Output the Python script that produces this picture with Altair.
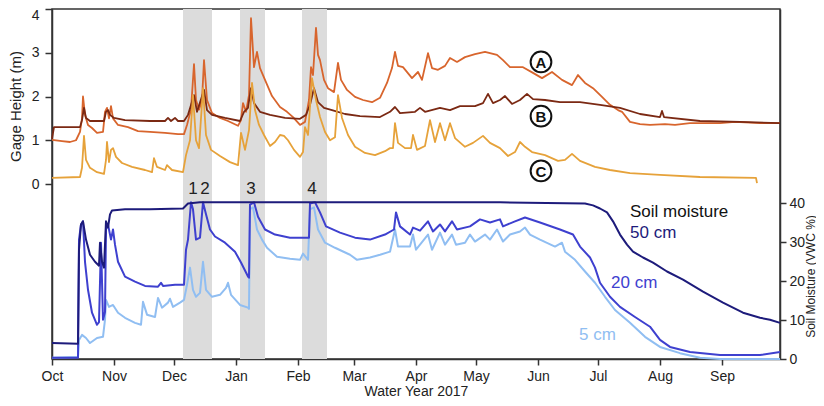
import altair as alt
import pandas as pd

FONT = "Liberation Sans"

MONTHS = ["Oct", "Nov", "Dec", "Jan", "Feb", "Mar", "Apr", "May", "Jun", "Jul", "Aug", "Sep"]
MONTH_START_DAYS = [0, 31, 61, 92, 123, 151, 182, 212, 243, 273, 304, 335]

# Gage height (m), x = day of water year 2017 (0 = Oct 1)
A_DAY = [0, 5, 9, 12, 14, 15, 15.5, 16.5, 18, 20, 22.5, 25.5, 26.5, 27.5, 28.5, 29.5, 30.5, 33, 38, 43, 49, 56.5, 63, 66,
         67.5, 69.5, 71, 72, 73.5, 75, 76, 77.5, 80, 84, 88, 93, 94.5, 95.5, 97, 98.5, 99.5, 101, 102.5, 104, 106.5, 110,
         114, 117.5, 120.5, 124, 126.5, 128.5, 129.5, 130.5, 132, 133, 134, 136, 138, 141, 143, 144.5, 147.5, 151.5,
         155.5, 160, 164, 167.5, 170, 171.5, 173, 175.5, 180, 183, 185, 188, 190, 193, 196.5, 199, 202.5, 206.5, 211.5,
         216.5, 222.5, 225.5, 229, 235.5, 240.5, 245, 250, 255, 260, 263, 266.5, 270.5, 275, 279, 283, 285, 289, 294,
         299, 306.5, 311.5, 319, 334, 341.5, 354, 364]
A_M = [1.01, 0.98, 0.96, 1.0, 1.19, 1.5, 2.0, 1.58, 1.35, 1.28, 1.17, 1.19, 1.65, 1.74, 1.5, 1.78, 1.5, 1.35, 1.3, 1.21,
       1.19, 1.17, 1.14, 1.14, 1.35, 1.7, 2.74, 1.92, 1.7, 1.92, 2.83, 1.92, 1.62, 1.51, 1.44, 1.33, 1.46, 1.85, 1.65,
       2.03, 3.79, 2.67, 3.02, 2.65, 2.38, 2.01, 1.76, 1.65, 1.53, 1.35, 1.42, 1.92, 2.67, 2.49, 3.57, 2.95, 2.83, 2.38,
       2.19, 2.1, 2.77, 2.38, 2.15, 1.99, 1.92, 1.87, 1.97, 2.31, 2.65, 3.02, 2.7, 2.67, 2.42, 2.56, 2.38, 2.99, 2.65,
       2.61, 2.7, 2.88, 2.79, 2.9, 2.97, 3.02, 2.95, 2.83, 2.67, 2.67, 2.54, 2.42, 2.56, 2.38, 2.26, 2.49, 2.31, 2.19,
       1.99, 1.81, 1.69, 1.65, 1.42, 1.37, 1.35, 1.37, 1.35, 1.39, 1.39, 1.42, 1.39, 1.39]

B_DAY = [0, 1, 14, 15, 16, 17, 19, 26, 27, 28, 29, 31, 36.5, 49, 56.5, 58, 59.5, 61.5, 63, 66, 68, 71, 72.5, 76, 77.5,
         80, 86.5, 94, 96, 98, 99.5, 101, 104, 109, 116.5, 124, 127, 129, 131, 133, 136, 140, 146.5, 154, 164, 169,
         171.5, 174, 181.5, 184, 186.5, 194, 199, 204, 211.5, 215.5, 218, 220.5, 224, 226.5, 230, 234, 237.5, 240.5,
         246.5, 254, 264, 274, 284, 294, 304, 305, 306, 324, 344, 364]
B_M = [1.03, 1.3, 1.3, 1.46, 1.74, 1.51, 1.44, 1.44, 1.65, 1.69, 1.58, 1.51, 1.46, 1.44, 1.44, 1.51, 1.44, 1.51, 1.44,
       1.44, 1.58, 2.03, 1.65, 2.15, 1.69, 1.58, 1.51, 1.44, 1.65, 1.74, 2.19, 1.85, 1.65, 1.58, 1.51, 1.49, 1.58, 1.81,
       2.19, 1.87, 1.74, 1.69, 1.6, 1.55, 1.53, 1.65, 1.76, 1.62, 1.65, 1.74, 1.65, 1.74, 1.69, 1.78, 1.78, 1.85, 2.06,
       1.85, 1.92, 2.01, 1.83, 1.92, 2.06, 1.94, 1.92, 1.87, 1.87, 1.81, 1.74, 1.6, 1.53, 1.67, 1.53, 1.44, 1.42, 1.39]

C_DAY = [0, 14, 15, 16, 17, 19, 22.5, 26, 27, 27.5, 28.5, 29.5, 30.5, 32, 35, 40, 46.5, 50, 51, 52.5, 56.5, 57.5, 60,
         65.5, 67, 69, 70.5, 72, 73.5, 75.5, 77, 79.5, 84, 89, 93, 94.5, 96.5, 98.5, 100, 101.5, 103.5, 106, 109, 111.5,
         114, 116, 118, 121, 124, 125.5, 126.5, 128, 130, 132, 134, 136.5, 139, 141.5, 143, 145, 148, 151.5, 156.5,
         161.5, 166.5, 169, 170.5, 171.5, 173, 176.5, 179.5, 180.5, 182.5, 186.5, 189, 191.5, 194, 196.5, 199, 201.5,
         206.5, 210.5, 215.5, 219, 224, 228, 231.5, 234, 236.5, 240, 246.5, 253, 256.5, 260, 264, 271.5, 279, 289, 304,
         324, 352, 352.5]
C_M = [0.14, 0.16, 0.37, 1.1, 0.55, 0.37, 0.27, 0.23, 0.55, 0.96, 0.5, 0.78, 0.82, 0.62, 0.48, 0.39, 0.32, 0.27, 0.59,
       0.39, 0.32, 0.43, 0.32, 0.27, 0.66, 1.0, 2.03, 1.0, 0.82, 2.19, 1.12, 0.78, 0.64, 0.5, 0.43, 1.17, 0.78, 1.23,
       2.31, 1.69, 1.35, 1.12, 0.87, 0.96, 1.12, 1.1, 1.0, 0.78, 0.62, 0.73, 1.3, 1.12, 2.42, 1.92, 1.53, 1.19, 1.0,
       1.07, 2.03, 1.51, 1.12, 0.85, 0.71, 0.66, 0.75, 0.82, 0.82, 1.39, 0.94, 0.82, 0.82, 1.12, 0.78, 0.87, 1.46, 0.96,
       1.39, 1.0, 1.39, 1.05, 0.85, 0.94, 1.1, 0.94, 0.82, 0.64, 0.73, 0.96, 0.85, 0.73, 0.66, 0.53, 0.55, 0.69, 0.53,
       0.39, 0.32, 0.25, 0.21, 0.16, 0.14, 0.02]

# Soil moisture (VWC %)
S50_DAY = [0, 13, 13.5, 14.5, 15.5, 17, 19, 21.5, 23.5, 24, 25, 26, 27, 28, 29, 30, 36.5, 49, 65.5, 68, 74, 124, 174,
           224, 266.5, 270.5, 274, 277.5, 280.5, 284, 287.5, 290.5, 295.5, 300.5, 307.5, 315.5, 325.5, 335.5, 345.5,
           354, 359, 364]
S50_V = [4.1, 3.9, 28.1, 34.6, 35.4, 30.7, 26.8, 25.0, 24.0, 29.9, 25.0, 23.5, 35.4, 33.8, 37.2, 38.2, 38.5, 38.5, 38.7,
         40.0, 40.3, 40.3, 40.3, 40.3, 40.0, 39.5, 38.7, 37.7, 35.4, 32.0, 29.4, 27.6, 26.1, 24.8, 22.5, 20.4, 17.3, 14.5,
         11.9, 10.6, 10.1, 9.3]

S20_DAY = [0, 13, 13.5, 14.5, 15.5, 16.5, 18, 20, 22.5, 23.5, 24.5, 25.5, 26.5, 27, 28, 29.5, 30.5, 31.5, 33, 36.5,
           41.5, 46.5, 53, 54.5, 55.5, 61.5, 66, 67, 68, 69.5, 70.5, 72, 74, 75.5, 77, 79, 81.5, 86.5, 91.5, 94.5, 98,
           98.5, 99, 101, 103, 106.5, 111.5, 119, 126.5, 128.5, 129, 131.5, 134, 137, 144, 151.5, 159, 166.5, 171, 172,
           174, 179, 180.5, 184, 188, 190.5, 194, 196.5, 200, 202.5, 209, 214, 219, 224, 225.5, 231.5, 236.5, 244, 254,
           260.5, 264, 269, 271.5, 274, 279, 284, 291.5, 299, 304, 309, 319, 334, 354, 364]
S20_V = [0.3, 0.3, 30.7, 34.6, 35.4, 25.0, 17.8, 11.9, 8.8, 9.5, 29.9, 10.1, 12.1, 33.3, 34.6, 30.7, 33.3, 29.4, 25.0,
         21.2, 19.9, 18.8, 18.6, 19.6, 18.8, 19.1, 19.1, 28.1, 30.7, 40.3, 38.5, 30.7, 31.2, 40.3, 37.2, 33.3, 31.5, 29.9,
         27.6, 24.8, 21.2, 20.9, 39.7, 40.3, 36.6, 33.3, 32.0, 31.2, 31.2, 31.2, 40.0, 40.3, 37.7, 34.1, 32.5, 31.2, 30.7,
         32.0, 33.3, 37.7, 34.1, 32.0, 33.8, 33.0, 35.4, 32.8, 34.6, 32.8, 35.4, 33.3, 34.1, 35.9, 35.1, 35.9, 34.1, 35.4,
         36.4, 35.1, 33.3, 32.0, 28.9, 26.1, 23.5, 19.6, 16.0, 13.4, 10.8, 8.3, 4.9, 3.1, 1.8, 1.0, 1.0, 1.8]

S5_DAY = [0, 13, 13.5, 15, 17, 19, 22.5, 25.5, 26.5, 27, 28.5, 30.5, 33, 36.5, 41.5, 44.5, 45.5, 47.5, 51.5, 53, 55,
          58, 59, 60.5, 64, 66, 67.5, 69, 70.5, 72, 74, 75.5, 77, 80, 84, 87, 88, 89.5, 94, 98, 98.5, 99, 100.5, 102.5,
          105, 107.5, 112.5, 119, 124, 125.5, 128, 129, 131, 133, 136.5, 141.5, 149, 152.5, 159, 164, 169, 171.5, 173,
          179, 180.5, 182, 188, 190, 194, 196.5, 200, 202, 206.5, 209, 211.5, 216.5, 219, 222.5, 225.5, 229, 234,
          236.5, 239, 244, 251.5, 255, 256.5, 261.5, 266.5, 271.5, 276.5, 281.5, 289, 296.5, 304, 314, 324, 334, 364]
S5_V = [0.3, 0.5, 4.9, 6.2, 5.4, 4.1, 5.4, 5.7, 10.1, 15.2, 13.4, 13.9, 11.9, 10.6, 9.3, 8.8, 14.7, 11.4, 10.8, 15.7,
        13.2, 14.5, 15.5, 13.4, 14.5, 15.2, 19.1, 23.5, 17.8, 16.0, 17.0, 25.0, 17.8, 16.0, 16.5, 18.3, 19.6, 16.5, 13.9,
        13.2, 12.9, 38.5, 39.0, 33.3, 30.7, 28.6, 26.3, 25.8, 25.5, 27.1, 25.5, 38.5, 39.0, 33.3, 29.9, 28.6, 26.8, 25.5,
        26.1, 26.8, 27.6, 33.3, 28.9, 28.9, 32.0, 28.1, 32.0, 28.1, 32.5, 29.4, 32.0, 29.4, 29.9, 32.0, 30.2, 32.0, 30.7,
        33.3, 30.2, 32.0, 32.8, 33.8, 32.0, 30.7, 28.9, 29.9, 27.6, 25.5, 22.5, 19.6, 16.0, 12.6, 9.3, 5.7, 3.1, 1.5,
        0.3, 0.0, 0.0]

# Storm events (shaded) and labels
BAND_START = [65.5, 94, 125]
BAND_END = [80, 106.5, 137.5]
EVENT_LABELS = ["1", "2", "3", "4"]
EVENT_DAYS = [70.5, 76.5, 99.5, 130]
EVENT_Y = [-0.12, -0.12, -0.12, -0.12]

SITE_LABELS = ["A", "B", "C"]
SITE_DAYS = [244.5, 244.5, 244.5]
SITE_M = [2.79, 1.55, 0.30]

GAGE_SERIES = ["A", "B", "C"]
GAGE_COLORS = ["#d8652d", "#7b2913", "#e6a23a"]
SOIL_SERIES = ["5 cm", "20 cm", "50 cm"]
SOIL_COLORS = ["#90bef2", "#3e40cf", "#1d1b7b"]

SOIL_TEXT = ["Soil moisture", "50 cm", "20 cm", "5 cm"]
SOIL_TEXT_GROUP = ["title", "50 cm", "20 cm", "5 cm"]
SOIL_TEXT_DAY = [289, 289, 279.5, 263.5]
SOIL_TEXT_V = [37.7, 32.3, 19.6, 6.2]

# ---- tables
gage_rows = []
for name, days, vals in [("A", A_DAY, A_M), ("B", B_DAY, B_M), ("C", C_DAY, C_M)]:
    for i, (d, v) in enumerate(zip(days, vals)):
        gage_rows.append({"day": d, "m": v, "series": name, "order": i})
gage_df = pd.DataFrame(gage_rows)

soil_rows = []
for name, days, vals in [("5 cm", S5_DAY, S5_V), ("20 cm", S20_DAY, S20_V), ("50 cm", S50_DAY, S50_V)]:
    for i, (d, v) in enumerate(zip(days, vals)):
        soil_rows.append({"day": d, "vwc": v, "depth": name, "order": i})
soil_df = pd.DataFrame(soil_rows)

band_df = pd.DataFrame({"day": BAND_START, "day_end": BAND_END})
event_df = pd.DataFrame({"day": EVENT_DAYS, "m": EVENT_Y, "label": EVENT_LABELS})
site_df = pd.DataFrame({"day": SITE_DAYS, "m": SITE_M, "label": SITE_LABELS})
soil_text_df = pd.DataFrame({"day": SOIL_TEXT_DAY, "vwc": SOIL_TEXT_V, "label": SOIL_TEXT, "depth": SOIL_TEXT_GROUP})

label_expr = ("[" + ",".join("'%s'" % m for m in MONTHS) + "][indexof(["
              + ",".join(str(d) for d in MONTH_START_DAYS) + "], datum.value)]")

X = alt.X("day:Q",
          scale=alt.Scale(domain=[0, 364], nice=False, zero=False),
          axis=alt.Axis(values=MONTH_START_DAYS, labelExpr=label_expr, title="Water Year 2017",
                        tickSize=6, labelPadding=4, titlePadding=1, labelFlush=False))

Y_GAGE = alt.Y("m:Q",
               scale=alt.Scale(domain=[-4, 4], nice=False, zero=False),
               axis=alt.Axis(orient="left", values=[0, 1, 2, 3, 4], title="Gage Height (m)",
                             tickSize=7, labelPadding=6, titleAngle=270, titleX=-37, titleY=97,
                             titleBaseline="middle", titleFontSize=15, labelFlush=True, labelFlushOffset=1))

Y_SOIL = alt.Y("vwc:Q",
               scale=alt.Scale(domain=[0, 90], nice=False, zero=False),
               axis=alt.Axis(orient="right", values=[0, 10, 20, 30, 40], title="Soil Moisture (VWC %)",
                             tickSize=6, labelPadding=3, titleAngle=270, titleX=30, titleY=267,
                             titleBaseline="middle", titleFontSize=12))

bands = alt.Chart(band_df).mark_rect(color="#dcdcdc").encode(x=X, x2="day_end:Q")

gage_lines = alt.Chart(gage_df).mark_line(strokeWidth=1.8, strokeJoin="round").encode(
    x=X, y=Y_GAGE,
    color=alt.Color("series:N", scale=alt.Scale(domain=GAGE_SERIES, range=GAGE_COLORS), legend=None),
    detail="series:N", order="order:Q")

circles = alt.Chart(site_df).mark_point(shape="circle", size=430, filled=True, fill="white",
                                        stroke="#111", strokeWidth=2, opacity=1).encode(x=X, y=Y_GAGE)
circle_text = alt.Chart(site_df).mark_text(font=FONT, fontSize=15, fontWeight="bold", color="#111",
                                           baseline="middle", align="center", dy=1).encode(
    x=X, y=Y_GAGE, text="label:N")

event_text = alt.Chart(event_df).mark_text(font=FONT, fontSize=17, color="#222", baseline="middle",
                                           align="center").encode(x=X, y=Y_GAGE, text="label:N")

gage = alt.layer(bands, gage_lines, circles, circle_text, event_text)

soil_lines = alt.Chart(soil_df).mark_line(strokeWidth=2, strokeJoin="round").encode(
    x=X, y=Y_SOIL,
    color=alt.Color("depth:N", scale=alt.Scale(domain=SOIL_SERIES, range=SOIL_COLORS), legend=None),
    detail="depth:N", order="order:Q")

soil_text = alt.Chart(soil_text_df).mark_text(font=FONT, fontSize=17, align="left", baseline="middle").encode(
    x=X, y=Y_SOIL, text="label:N",
    color=alt.Color("depth:N", scale=alt.Scale(domain=SOIL_SERIES + ["title"], range=SOIL_COLORS + ["#111111"]),
                    legend=None))

soil = alt.layer(soil_lines, soil_text).resolve_scale(color="independent")

chart = alt.layer(gage, soil).resolve_scale(y="independent", color="independent").properties(
    width=728, height=350,
    padding={"left": 44, "top": 1, "right": 36, "bottom": 39},
    autosize=alt.AutoSizeParams(type="none"),
    background="white",
).configure_view(stroke="#333", strokeWidth=1.5).configure_axis(
    domainColor="#333", domainWidth=1.5, tickColor="#333", tickWidth=1.5,
    labelFont=FONT, labelFontSize=14, labelColor="#222",
    titleFont=FONT, titleFontSize=14, titleFontWeight="normal", titleColor="#222", grid=False)

chart.save("out.html", embed_options={"renderer": "svg", "actions": False})
